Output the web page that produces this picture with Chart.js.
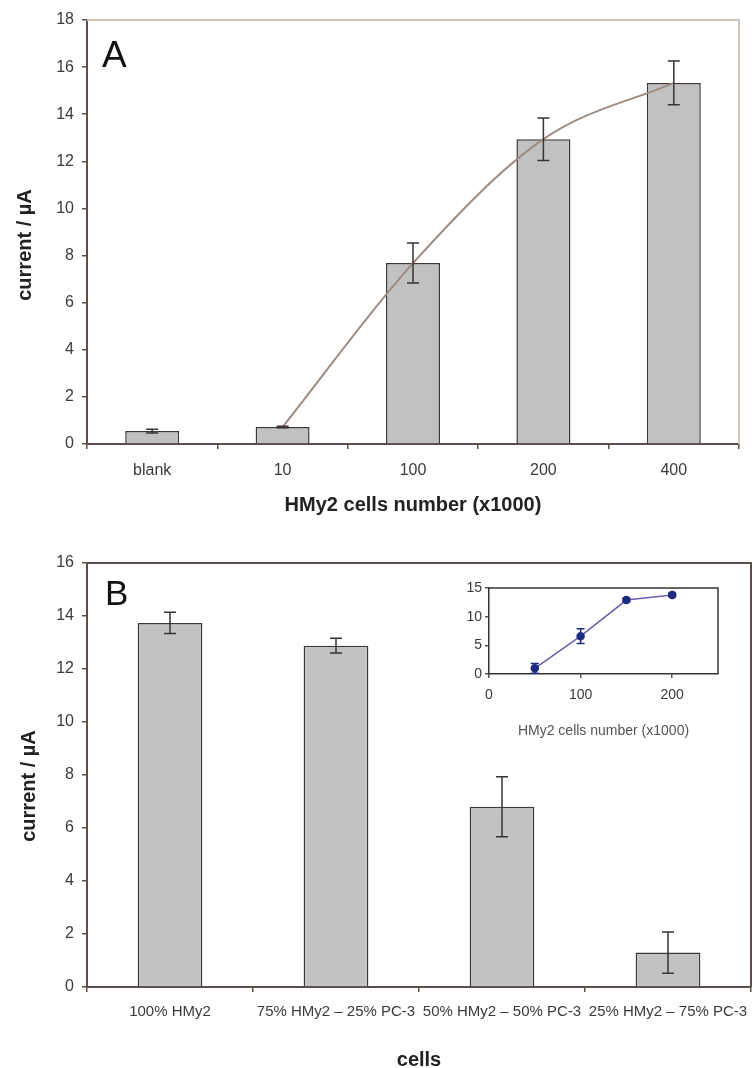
<!DOCTYPE html>
<html>
<head>
<meta charset="utf-8">
<script src="https://cdn.jsdelivr.net/npm/chart.js@4"></script>
<style>
  html, body { margin: 0; padding: 0; background: #fff; overflow: hidden; }
  #wrap { position: relative; width: 752px; height: 1068px; }
  #chartA { position: absolute; left: 0; top: 0; }
  #chartB { position: absolute; left: 0; top: 536px; }
  #inset { position: absolute; left: 440px; top: 570px; }
</style>
</head>
<body>
<div id="wrap">
  <canvas id="chartA" width="752" height="520"></canvas>
  <canvas id="chartB" width="752" height="540"></canvas>
  <canvas id="inset" width="300" height="180"></canvas>
</div>
<script>
// panel A: current vs. number of HMy2 cells
const cellCounts = ["blank", "10", "100", "200", "400"];
const currentA = [0.55, 0.72, 7.68, 12.94, 15.33];
const errorA = [0.08, 0.03, 0.85, 0.9, 0.93];
const fitA = [null, 0.72, 7.68, 12.94, 15.33];

// panel B: HMy2 / PC-3 mixtures
const mixtures = ["100% HMy2", "75% HMy2 – 25% PC-3", "50% HMy2 – 50% PC-3", "25% HMy2 – 75% PC-3"];
const currentB = [13.74, 12.88, 6.8, 1.3];
const errorB = [0.4, 0.28, 1.13, 0.78];

// inset: calibration with HMy2 cells only
const insetCells = [50, 100, 150, 200];
const insetCurrent = [1.0, 6.6, 12.9, 13.8];
const insetError = [0.85, 1.3, 0.3, 0.3];

const FONT = "'Liberation Sans', Arial, sans-serif";
const AXIS = "#5b4f4b";
const TICK_TEXT = "#3a3a3a";

Chart.defaults.font.family = FONT;
Chart.defaults.animation = false;
Chart.defaults.plugins.legend.display = false;
Chart.defaults.plugins.tooltip.enabled = false;

// vertical error bars for one dataset, drawn through the y scale
const errorBars = {
  id: "errorBars",
  afterDatasetsDraw(chart, args, opts) {
    const idx = opts.dataset || 0;
    const meta = chart.getDatasetMeta(idx);
    const vals = chart.data.datasets[idx].data;
    const y = chart.scales.y;
    const ctx = chart.ctx;
    ctx.save();
    ctx.strokeStyle = opts.color;
    ctx.lineWidth = opts.width;
    meta.data.forEach((el, i) => {
      const v = typeof vals[i] === "object" ? vals[i].y : vals[i];
      const e = opts.errors[i];
      const top = y.getPixelForValue(v + e);
      const bot = y.getPixelForValue(v - e);
      const x = el.x;
      ctx.beginPath();
      ctx.moveTo(x, top); ctx.lineTo(x, bot);
      ctx.moveTo(x - opts.cap, top); ctx.lineTo(x + opts.cap, top);
      ctx.moveTo(x - opts.cap, bot); ctx.lineTo(x + opts.cap, bot);
      ctx.stroke();
    });
    ctx.restore();
  }
};

// top and right edges of the plot area
const frame = {
  id: "frame",
  beforeDatasetsDraw(chart, args, opts) {
    const { left, top, right, bottom } = chart.chartArea;
    const ctx = chart.ctx;
    ctx.save();
    ctx.strokeStyle = opts.color;
    ctx.lineWidth = opts.width;
    ctx.beginPath();
    ctx.moveTo(left, top);
    ctx.lineTo(right, top);
    ctx.lineTo(right, bottom);
    ctx.stroke();
    ctx.restore();
  }
};

// panel letter and rotated y title
const panelText = {
  id: "panelText",
  afterDraw(chart, args, opts) {
    const a = chart.chartArea;
    const ctx = chart.ctx;
    ctx.save();
    ctx.fillStyle = "#111";
    ctx.font = opts.letterSize + "px " + FONT;
    ctx.textBaseline = "alphabetic";
    ctx.fillText(opts.letter, a.left + opts.letterDx, a.top + opts.letterDy);
    ctx.translate(opts.titleX, (a.top + a.bottom) / 2 + opts.titleDy);
    ctx.rotate(-Math.PI / 2);
    ctx.font = "bold 20px " + FONT;
    ctx.fillStyle = "#222";
    ctx.textAlign = "center";
    ctx.textBaseline = "middle";
    ctx.fillText(opts.title, 0, 0);
    ctx.restore();
  }
};

function axisGrid(len) {
  return { drawOnChartArea: false, tickLength: len, color: AXIS, lineWidth: 1.5 };
}

new Chart(document.getElementById("chartA"), {
  type: "bar",
  data: {
    labels: cellCounts,
    datasets: [
      {
        type: "line",
        data: fitA,
        borderColor: "#9c8c84",
        borderWidth: 2,
        pointRadius: 0,
        cubicInterpolationMode: "monotone",
        order: 1
      },
      {
        data: currentA,
        backgroundColor: "#c1c1c1",
        borderColor: "#3f3636",
        borderWidth: 1.5,
        categoryPercentage: 1,
        barPercentage: 0.414,
        order: 2
      }
    ]
  },
  options: {
    responsive: false,
    layout: { padding: { left: 0, right: 13, top: 20, bottom: 0 } },
    scales: {
      x: {
        grid: axisGrid(5),
        border: { color: AXIS, width: 2 },
        ticks: { color: TICK_TEXT, font: { size: 16 }, padding: 12, maxRotation: 0 },
        title: {
          display: true,
          text: "HMy2 cells number (x1000)",
          color: "#222",
          font: { size: 20, weight: "bold" },
          padding: { top: 0, bottom: 3 }
        },
        afterFit(s) { s.height = 76; s.paddingLeft = 0; s.paddingRight = 0; }
      },
      y: {
        min: 0,
        max: 18,
        grid: axisGrid(5),
        border: { color: AXIS, width: 2 },
        ticks: { stepSize: 2, color: TICK_TEXT, font: { size: 16 }, padding: 8 },
        afterFit(s) { s.width = 87; }
      }
    },
    plugins: {
      errorBars: { dataset: 1, errors: errorA, color: "#3a3333", width: 1.5, cap: 6 },
      frame: { color: "#cfc6bf", width: 2 },
      panelText: { letter: "A", letterSize: 37, letterDx: 15, letterDy: 47, title: "current / µA", titleX: 25, titleDy: 13 }
    }
  },
  plugins: [errorBars, frame, panelText]
});

new Chart(document.getElementById("chartB"), {
  type: "bar",
  data: {
    labels: mixtures,
    datasets: [
      {
        data: currentB,
        backgroundColor: "#c2c2c2",
        borderColor: "#3f3636",
        borderWidth: 1.5,
        categoryPercentage: 1,
        barPercentage: 0.39
      }
    ]
  },
  options: {
    responsive: false,
    layout: { padding: { left: 0, right: 1, top: 27, bottom: 0 } },
    scales: {
      x: {
        grid: axisGrid(5),
        border: { color: AXIS, width: 2 },
        ticks: { color: TICK_TEXT, font: { size: 15 }, padding: 11, maxRotation: 0, autoSkip: false },
        title: {
          display: true,
          text: "cells",
          color: "#222",
          font: { size: 20, weight: "bold" },
          padding: { top: 0, bottom: 4 }
        },
        afterFit(s) { s.height = 89; s.paddingLeft = 0; s.paddingRight = 0; }
      },
      y: {
        min: 0,
        max: 16,
        grid: axisGrid(5),
        border: { color: AXIS, width: 2 },
        ticks: { stepSize: 2, color: TICK_TEXT, font: { size: 16 }, padding: 8 },
        afterFit(s) { s.width = 87; }
      }
    },
    plugins: {
      errorBars: { dataset: 0, errors: errorB, color: "#3a3333", width: 1.5, cap: 6 },
      frame: { color: AXIS, width: 2 },
      panelText: { letter: "B", letterSize: 35, letterDx: 18, letterDy: 42, title: "current / µA", titleX: 29, titleDy: 11 }
    }
  },
  plugins: [errorBars, frame, panelText]
});

new Chart(document.getElementById("inset"), {
  type: "scatter",
  data: {
    datasets: [
      {
        data: insetCells.map((x, i) => ({ x: x, y: insetCurrent[i] })),
        showLine: true,
        borderColor: "#6c5fb0",
        borderWidth: 1.5,
        pointRadius: 3.5,
        pointBackgroundColor: "#1f2a80",
        pointBorderColor: "#1f2a80"
      }
    ]
  },
  options: {
    responsive: false,
    layout: { padding: { left: 0, right: 22, top: 18, bottom: 0 } },
    scales: {
      x: {
        type: "linear",
        min: 0,
        max: 250,
        grid: axisGrid(4),
        border: { color: "#333", width: 1.5 },
        ticks: { stepSize: 100, includeBounds: false, color: TICK_TEXT, font: { size: 14 }, padding: 9 },
        title: {
          display: true,
          text: "HMy2 cells number (x1000)",
          color: "#555",
          font: { size: 14 },
          padding: { top: 0, bottom: 10 }
        },
        afterFit(s) { s.height = 76; }
      },
      y: {
        min: 0,
        max: 15,
        grid: axisGrid(4),
        border: { color: "#333", width: 1.5 },
        ticks: { stepSize: 5, color: TICK_TEXT, font: { size: 14 }, padding: 3 },
        afterFit(s) { s.width = 49; }
      }
    },
    plugins: {
      errorBars: { dataset: 0, errors: insetError, color: "#1f2a80", width: 1.5, cap: 4 },
      frame: { color: "#333", width: 1.5 }
    }
  },
  plugins: [errorBars, frame]
});
</script>
</body>
</html>
